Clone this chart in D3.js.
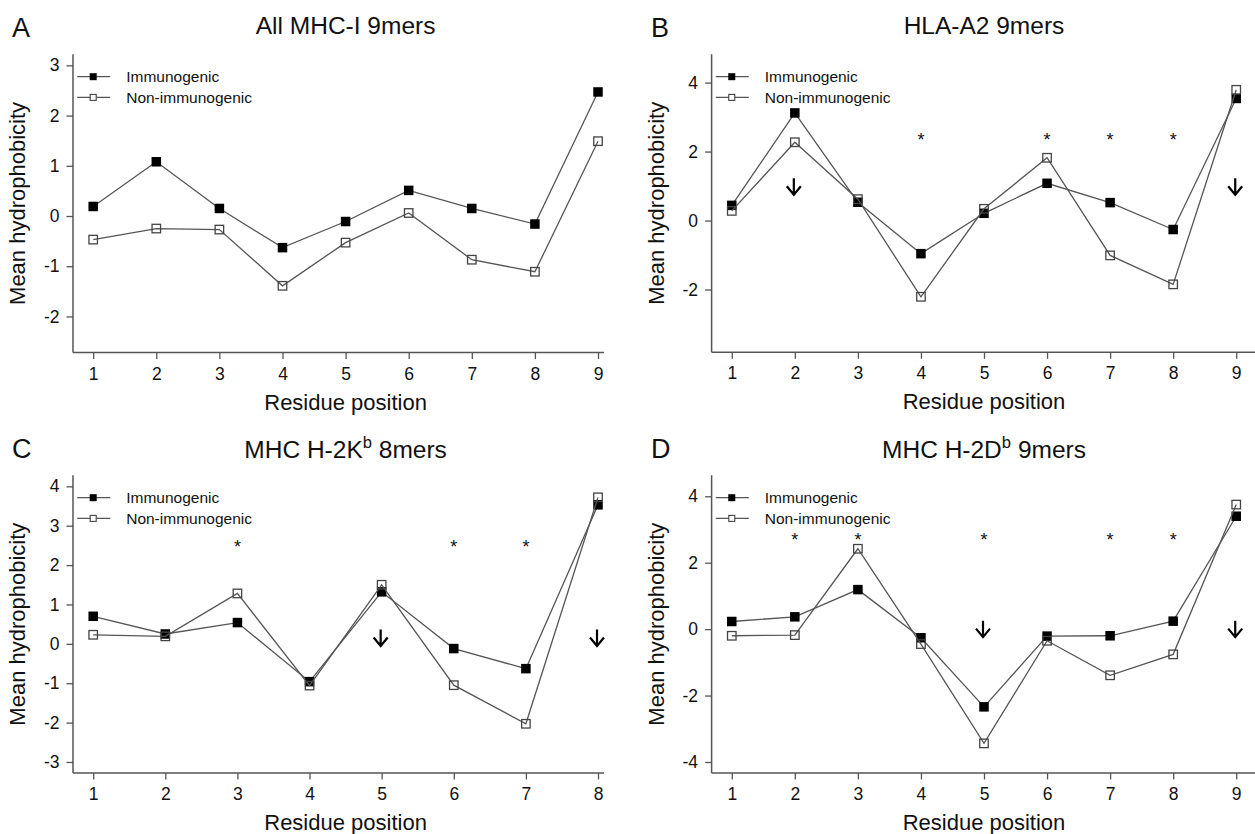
<!DOCTYPE html>
<html>
<head>
<meta charset="utf-8">
<script src="https://cdn.jsdelivr.net/npm/d3@7"></script>
<style>
  html, body { margin: 0; padding: 0; background: #fff; }
  svg { display: block; }
  text { font-family: "Liberation Sans", Arial, Helvetica, sans-serif; fill: #111; }
</style>
</head>
<body>
<svg id="chart" width="1255" height="834"></svg>
<script>
// ---------------- data ----------------
const panelLetters = ["A", "B", "C", "D"];
const titleMain = ["All MHC-I 9mers", "HLA-A2 9mers", "MHC H-2K", "MHC H-2D"];
const titleSup  = ["", "", "b", "b"];
const titleRest = ["", "", " 8mers", " 9mers"];
const seriesNames = ["Immunogenic", "Non-immunogenic"];
const xLabel = "Residue position";
const yLabel = "Mean hydrophobicity";

const positions9 = [1, 2, 3, 4, 5, 6, 7, 8, 9];
const positions8 = [1, 2, 3, 4, 5, 6, 7, 8];

const immA = [0.19, 1.08, 0.15, -0.63, -0.11, 0.51, 0.15, -0.16, 2.47];
const nonA = [-0.47, -0.25, -0.27, -1.39, -0.53, 0.06, -0.87, -1.11, 1.49];
const immB = [0.44, 3.12, 0.53, -0.96, 0.21, 1.08, 0.52, -0.26, 3.54];
const nonB = [0.28, 2.27, 0.62, -2.21, 0.34, 1.82, -1.01, -1.85, 3.79];
const immC = [0.70, 0.25, 0.54, -0.96, 1.32, -0.12, -0.63, 3.53];
const nonC = [0.23, 0.19, 1.28, -1.06, 1.50, -1.05, -2.03, 3.72];
const immD = [0.23, 0.37, 1.19, -0.26, -2.34, -0.21, -0.20, 0.24, 3.40];
const nonD = [-0.20, -0.18, 2.42, -0.45, -3.44, -0.35, -1.39, -0.76, 3.75];

const yTicksA = [-2, -1, 0, 1, 2, 3];
const yTicksB = [-2, 0, 2, 4];
const yTicksC = [-3, -2, -1, 0, 1, 2, 3, 4];
const yTicksD = [-4, -2, 0, 2, 4];

const yLimA = [-2.5, 3];
const yLimB = [-3.5, 4.5];
const yLimC = [-3, 4];
const yLimD = [-4, 4.3];

// significance stars (positions, height in data units)
const starsA = [];           const starYA = 0;
const starsB = [4, 6, 7, 8]; const starYB = 2.45;
const starsC = [3, 6, 7];    const starYC = 2.55;
const starsD = [2, 3, 5, 7, 8]; const starYD = 2.79;

// arrows (positions, centre height in data units)
const arrowsA = [];      const arrowYA = 0;
const arrowsB = [2, 9];  const arrowYB = 0.98;
const arrowsC = [5, 8];  const arrowYC = 0.15;
const arrowsD = [5, 9];  const arrowYD = 0.0;

// ---------------- layout ----------------
const panels = [
  { pos: positions9, imm: immA, non: nonA, yTicks: yTicksA, yLim: yLimA, stars: starsA, starY: starYA, arrows: arrowsA, arrowY: arrowYA,
    left: 73, right: 618.2, top: 54.3, bottom: 352.6, clipRight: 604, letterY: 36.5, titleY: 34, col: 0 },
  { pos: positions9, imm: immB, non: nonB, yTicks: yTicksB, yLim: yLimB, stars: starsB, starY: starYB, arrows: arrowsB, arrowY: arrowYB,
    left: 711.6, right: 1256.4, top: 54.3, bottom: 352.3, clipRight: 1255, letterY: 36.5, titleY: 34, col: 1 },
  { pos: positions8, imm: immC, non: nonC, yTicks: yTicksC, yLim: yLimC, stars: starsC, starY: starYC, arrows: arrowsC, arrowY: arrowYC,
    left: 73, right: 618.2, top: 475.3, bottom: 773, clipRight: 604, letterY: 458, titleY: 457.5, col: 0 },
  { pos: positions9, imm: immD, non: nonD, yTicks: yTicksD, yLim: yLimD, stars: starsD, starY: starYD, arrows: arrowsD, arrowY: arrowYD,
    left: 711.6, right: 1256.4, top: 475.3, bottom: 773, clipRight: 1255, letterY: 458, titleY: 457.5, col: 1 }
];

const AXIS_COL = "#555";
const LINE_COL = "#555";
const OPEN_COL = "#444";
const FONT_TICK = 17.5;
const FONT_LAB = 22;
const FONT_TITLE = 24.5;
const FONT_LETTER = 27;
const FONT_LEG = 15.5;
const fmt = d => String(d);   // plain hyphen minus as in the original

const svg = d3.select("#chart");

function ext(lim) { const r = lim[1] - lim[0]; return [lim[0] - 0.04 * r, lim[1] + 0.04 * r]; }

panels.forEach((p, i) => {
  const n = p.pos.length;
  const x = d3.scaleLinear().domain(ext([1, n])).range([p.left, p.right]);
  const y = d3.scaleLinear().domain(ext(p.yLim)).range([p.bottom, p.top]);
  const g = svg.append("g");

  // panel letter
  g.append("text").attr("x", p.col === 0 ? 12 : 651).attr("y", p.letterY)
    .attr("font-size", FONT_LETTER).text(panelLetters[i]);

  // title
  const t = g.append("text").attr("x", (p.left + p.right) / 2).attr("y", p.titleY)
    .attr("text-anchor", "middle").attr("font-size", FONT_TITLE);
  t.append("tspan").text(titleMain[i]);
  if (titleSup[i]) {
    t.append("tspan").attr("font-size", FONT_TITLE * 0.68).attr("dy", -10).text(titleSup[i]);
    t.append("tspan").attr("dy", 10).text(titleRest[i]);
  }

  // y axis
  const yAxis = d3.axisLeft(y).tickValues(p.yTicks).tickSize(6.5).tickPadding(7).tickFormat(fmt);
  const gy = g.append("g").attr("transform", `translate(${p.left},0)`).call(yAxis);
  gy.select(".domain").remove();
  gy.selectAll(".tick line").attr("stroke", AXIS_COL).attr("stroke-width", 1.3);
  gy.selectAll(".tick text").attr("font-size", FONT_TICK).attr("font-family", '"Liberation Sans", Arial, sans-serif').attr("fill", "#111");
  g.append("line").attr("x1", p.left).attr("x2", p.left).attr("y1", p.top).attr("y2", p.bottom)
    .attr("stroke", AXIS_COL).attr("stroke-width", 1.5);

  // x axis
  const xAxis = d3.axisBottom(x).tickValues(p.pos).tickSize(6.5).tickPadding(8).tickFormat(fmt);
  const gx = g.append("g").attr("transform", `translate(0,${p.bottom})`).call(xAxis);
  gx.select(".domain").remove();
  gx.selectAll(".tick line").attr("stroke", AXIS_COL).attr("stroke-width", 1.3);
  gx.selectAll(".tick text").attr("font-size", FONT_TICK).attr("font-family", '"Liberation Sans", Arial, sans-serif').attr("fill", "#111");
  g.append("line").attr("x1", p.left).attr("x2", p.clipRight).attr("y1", p.bottom).attr("y2", p.bottom)
    .attr("stroke", AXIS_COL).attr("stroke-width", 1.5);

  // axis labels
  g.append("text").attr("x", (p.left + p.right) / 2).attr("y", p.bottom + 57)
    .attr("text-anchor", "middle").attr("font-size", FONT_LAB).text(xLabel);
  g.append("text")
    .attr("transform", `translate(${p.left - 48},${(p.top + p.bottom) / 2}) rotate(-90)`)
    .attr("text-anchor", "middle").attr("font-size", FONT_LAB).text(yLabel);

  // series
  const line = d3.line().x((d, k) => x(p.pos[k])).y(d => y(d));
  const ms = 9.5;
  // immunogenic
  g.append("path").datum(p.imm).attr("d", line).attr("fill", "none")
    .attr("stroke", LINE_COL).attr("stroke-width", 1.3);
  g.selectAll(null).data(p.imm).enter().append("rect")
    .attr("x", (d, k) => x(p.pos[k]) - ms / 2).attr("y", d => y(d) - ms / 2)
    .attr("width", ms).attr("height", ms).attr("fill", "#000");
  // non-immunogenic
  g.append("path").datum(p.non).attr("d", line).attr("fill", "none")
    .attr("stroke", LINE_COL).attr("stroke-width", 1.3);
  g.selectAll(null).data(p.non).enter().append("rect")
    .attr("x", (d, k) => x(p.pos[k]) - (ms - 1) / 2).attr("y", d => y(d) - (ms - 1) / 2)
    .attr("width", ms - 1).attr("height", ms - 1).attr("fill", "none")
    .attr("stroke", OPEN_COL).attr("stroke-width", 1.3);

  // stars
  g.selectAll(null).data(p.stars).enter().append("text")
    .attr("x", d => x(d)).attr("y", y(p.starY) + 10)
    .attr("text-anchor", "middle").attr("font-size", 18).attr("fill", "#111").text("*");

  // arrows
  p.arrows.forEach(a => {
    const ax = x(a) - 1, ay = y(p.arrowY);
    g.append("path")
      .attr("d", `M${ax},${ay - 8.5}L${ax},${ay + 8}M${ax - 7},${ay - 0.5}L${ax},${ay + 8}L${ax + 7},${ay - 0.5}`)
      .attr("fill", "none").attr("stroke", "#000").attr("stroke-width", 2.2);
  });

  // legend
  const lx = x(1);
  const ly0 = p.top + 22.4, dy = 20.7;
  seriesNames.forEach((name, k) => {
    const ly = ly0 + k * dy;
    g.append("line").attr("x1", lx - 16).attr("x2", lx + 17).attr("y1", ly).attr("y2", ly)
      .attr("stroke", LINE_COL).attr("stroke-width", 1.3);
    if (k === 0) {
      g.append("rect").attr("x", lx - 3.5).attr("y", ly - 3.5).attr("width", 7).attr("height", 7).attr("fill", "#000");
    } else {
      g.append("rect").attr("x", lx - 3).attr("y", ly - 3).attr("width", 6).attr("height", 6)
        .attr("fill", "#fff").attr("stroke", OPEN_COL).attr("stroke-width", 1.1);
    }
    g.append("text").attr("x", lx + 33).attr("y", ly + 5.5).attr("font-size", FONT_LEG).text(name);
  });
});
</script>
</body>
</html>
